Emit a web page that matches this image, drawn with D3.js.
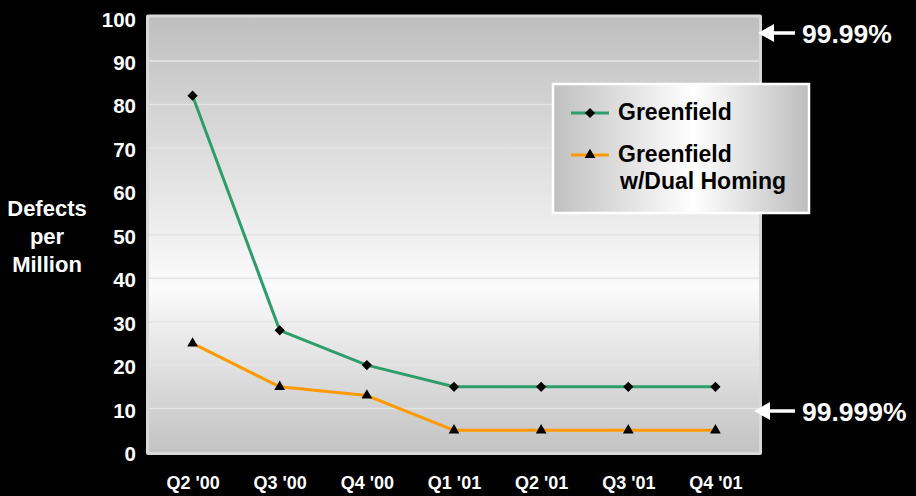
<!DOCTYPE html>
<html>
<head>
<meta charset="utf-8">
<script src="https://cdn.jsdelivr.net/npm/d3@7"></script>
<style>
  html, body { margin: 0; padding: 0; background: #000; }
  svg { display: block; font-family: Arial, "Liberation Sans", sans-serif; font-weight: bold; }
</style>
</head>
<body>
<svg id="chart" width="916" height="496"></svg>
<script>
// quarters on the x axis
var quarters = ["Q2 '00", "Q3 '00", "Q4 '00", "Q1 '01", "Q2 '01", "Q3 '01", "Q4 '01"];
// defects per million
var greenfield = [82, 28, 20, 15, 15, 15, 15];
var dualHoming = [25, 15, 13, 5, 5, 5, 5];
var yTicks = [0, 10, 20, 30, 40, 50, 60, 70, 80, 90, 100];

var svg = d3.select('#chart');
var defs = svg.append('defs');

var plotL = 149, plotR = 759, plotT = 17.5, plotB = 452;

var x = d3.scalePoint().domain(quarters).range([plotL, plotR]).padding(0.5);
var y = d3.scaleLinear().domain([0, 100]).range([plotB, plotT]);

// plot background gradient: gray -> white -> gray
var bg = defs.append('linearGradient').attr('id', 'bg').attr('x1', 0).attr('y1', 0).attr('x2', 0).attr('y2', 1);
bg.append('stop').attr('offset', '0%').attr('stop-color', '#bfbfbf');
bg.append('stop').attr('offset', '62%').attr('stop-color', '#fbfbfb');
bg.append('stop').attr('offset', '100%').attr('stop-color', '#c3c3c3');

var lg = defs.append('linearGradient').attr('id', 'lg').attr('x1', 0).attr('y1', 0).attr('x2', 1).attr('y2', 0);
lg.append('stop').attr('offset', '0%').attr('stop-color', '#c0c0c0');
lg.append('stop').attr('offset', '55%').attr('stop-color', '#ffffff');
lg.append('stop').attr('offset', '100%').attr('stop-color', '#bdbdbd');

// frame
svg.append('rect')
    .attr('x', plotL - 3).attr('y', plotT - 3)
    .attr('width', plotR - plotL + 6).attr('height', plotB - plotT + 6)
    .attr('rx', 2)
    .attr('fill', '#d9d9d9');
svg.append('rect')
    .attr('x', plotL).attr('y', plotT)
    .attr('width', plotR - plotL).attr('height', plotB - plotT)
    .attr('fill', 'url(#bg)');

// gridlines
svg.append('g')
    .selectAll('line')
    .data(yTicks.slice(1, -1))
    .enter()
    .append('line')
    .attr('x1', plotL).attr('x2', plotR)
    .attr('y1', d => y(d)).attr('y2', d => y(d))
    .attr('stroke', '#e4e4e4')
    .attr('stroke-width', 1.5);

// y axis labels
var yAxis = svg.append('g')
    .attr('transform', 'translate(' + (plotL - 13) + ',2)')
    .call(d3.axisLeft(y).tickValues(yTicks).tickSize(0).tickPadding(0));
yAxis.select('.domain').remove();
yAxis.selectAll('text')
    .attr('fill', '#fff')
    .style('font-size', '20.5px')
    .style('font-weight', 'bold')
    .style('font-family', 'Arial, "Liberation Sans", sans-serif');

// x axis labels
var xAxis = svg.append('g')
    .attr('transform', 'translate(0,' + (plotB + 24) + ')')
    .call(d3.axisBottom(x).tickSize(0).tickPadding(0));
xAxis.select('.domain').remove();
xAxis.selectAll('text')
    .attr('fill', '#fff')
    .style('font-size', '18px')
    .style('font-weight', 'bold')
    .style('font-family', 'Arial, "Liberation Sans", sans-serif');

// y title
var ttl = svg.append('text')
    .attr('x', 47).attr('y', 216)
    .attr('text-anchor', 'middle')
    .attr('fill', '#fff')
    .style('font-size', '22px');
['Defects', 'per', 'Million'].forEach((t, i) => {
    ttl.append('tspan').attr('x', 47).attr('dy', i ? 28 : 0).text(t);
});

var line = d3.line().x((d, i) => x(quarters[i])).y(d => y(d));

var series = [
    { values: greenfield, color: '#2e9d6c', symbol: d3.symbolSquare, size: 52, rot: 45 },
    { values: dualHoming, color: '#ff9900', symbol: d3.symbolTriangle, size: 50, rot: 0 }
];

series.forEach(s => {
    svg.append('path')
        .datum(s.values)
        .attr('d', line)
        .attr('fill', 'none')
        .attr('stroke', s.color)
        .attr('stroke-width', 3);
    svg.append('g')
        .selectAll('path')
        .data(s.values)
        .enter()
        .append('path')
        .attr('transform', (d, i) => 'translate(' + x(quarters[i]) + ',' + y(d) + ') rotate(' + s.rot + ')')
        .attr('d', d3.symbol().type(s.symbol).size(s.size))
        .attr('fill', '#000');
});

// legend
var legend = svg.append('g');
legend.append('rect')
    .attr('x', 553).attr('y', 84)
    .attr('width', 256).attr('height', 129)
    .attr('fill', 'url(#lg)')
    .attr('stroke', '#fff')
    .attr('stroke-width', 2.5);

var legendItems = [
    { lines: ['Greenfield'], y: 113, s: series[0] },
    { lines: ['Greenfield', 'w/Dual Homing'], y: 155, s: series[1] }
];
legendItems.forEach(it => {
    legend.append('line')
        .attr('x1', 571).attr('x2', 609)
        .attr('y1', it.y).attr('y2', it.y)
        .attr('stroke', it.s.color)
        .attr('stroke-width', 3);
    legend.append('path')
        .attr('transform', 'translate(590,' + it.y + ') rotate(' + it.s.rot + ')')
        .attr('d', d3.symbol().type(it.s.symbol).size(it.s.size))
        .attr('fill', '#000');
    var t = legend.append('text')
        .attr('y', it.y + 7)
        .attr('fill', '#000')
        .style('font-size', '23px');
    it.lines.forEach((l, i) => {
        t.append('tspan').attr('x', i ? 620 : 618).attr('dy', i ? 27 : 0).text(l);
    });
});

// availability markers
var marks = [
    { label: '99.99%', y: 33, tip: 758 },
    { label: '99.999%', y: 411, tip: 754 }
];
marks.forEach(m => {
    svg.append('line')
        .attr('x1', m.tip + 10).attr('x2', 795)
        .attr('y1', m.y).attr('y2', m.y)
        .attr('stroke', '#fff')
        .attr('stroke-width', 3.5);
    svg.append('path')
        .attr('d', 'M' + m.tip + ',' + m.y + 'L' + (m.tip + 16) + ',' + (m.y - 9) + 'L' + (m.tip + 16) + ',' + (m.y + 9) + 'Z')
        .attr('fill', '#fff');
    svg.append('text')
        .attr('x', 802).attr('y', m.y + 9.5)
        .attr('fill', '#fff')
        .style('font-size', '26.5px')
        .text(m.label);
});
</script>
</body>
</html>
